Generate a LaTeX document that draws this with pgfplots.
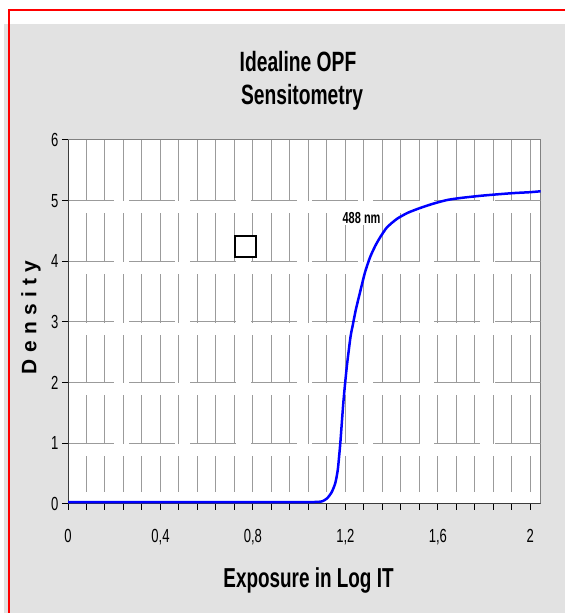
\documentclass[border=0pt]{standalone}
\usepackage{fontspec}
\setmainfont{Liberation Sans}
\newfontfamily\condfont{Liberation Sans}[FakeStretch=0.69]
\usepackage{pgfplots}
\pgfplotsset{compat=1.18}

\definecolor{bggray}{RGB}{226,226,226}
\definecolor{gridgray}{RGB}{155,155,155}
\definecolor{framegray}{RGB}{128,128,128}
\definecolor{axisdark}{RGB}{60,60,60}
\definecolor{redframe}{RGB}{255,0,0}
\definecolor{curveblue}{RGB}{0,0,255}

\begin{document}
\begin{tikzpicture}[x=1bp,y=1bp]
\useasboundingbox (0,0) rectangle (565,613);
\fill[white] (0,0) rectangle (565,613);
\fill[bggray] (4,0) rectangle (565,589);
\draw[redframe, line width=2bp] (9,-2) -- (9,603) -- (565,603);

\begin{axis}[
    at={(68bp,109bp)}, anchor=south west,
    scale only axis, width=472.7bp, height=364bp,
    xmin=0, xmax=2.045, ymin=0, ymax=6,
    xtick={0,0.4,0.8,1.2,1.6,2}, minor x tick num=4,
    ytick={0,1,2,3,4,5,6},
    axis background/.style={fill=white},
    xmajorgrids, xminorgrids,
    major grid style={gridgray, line width=1bp},
    minor grid style={gridgray, line width=1bp},
    tick align=outside, tick pos=left,
    major tick length=6bp, minor tick length=6bp,
    tick style={black, line width=1bp},
    axis line style={framegray, line width=1bp},
    ticklabel style={font=\condfont\fontsize{19}{21}\selectfont},
    xticklabel style={anchor=base, yshift=-33bp},
    /pgf/number format/.cd, use comma, assume math mode=true,
]
% white gaps that break the vertical grid just above each level
\fill[white] (axis cs:0.004,0.015) rectangle (axis cs:2.041,0.19);
\fill[white] (axis cs:0.004,0.79) rectangle (axis cs:2.041,0.99);
\fill[white] (axis cs:0.004,1.79) rectangle (axis cs:2.041,1.99);
\fill[white] (axis cs:0.004,2.79) rectangle (axis cs:2.041,2.99);
\fill[white] (axis cs:0.004,3.79) rectangle (axis cs:2.041,3.99);
\fill[white] (axis cs:0.004,4.79) rectangle (axis cs:2.041,4.99);
% broken horizontal grid lines
\draw[gridgray, line width=1bp, dash pattern=on 46bp off 15bp] (axis cs:0,1) -- (axis cs:2.045,1);
\draw[gridgray, line width=1bp, dash pattern=on 46bp off 15bp] (axis cs:0,2) -- (axis cs:2.045,2);
\draw[gridgray, line width=1bp, dash pattern=on 46bp off 15bp] (axis cs:0,3) -- (axis cs:2.045,3);
\draw[gridgray, line width=1bp, dash pattern=on 46bp off 15bp] (axis cs:0,4) -- (axis cs:2.045,4);
\draw[gridgray, line width=1bp, dash pattern=on 46bp off 15bp] (axis cs:0,5) -- (axis cs:2.045,5);
% darker left and bottom axis lines
\draw[axisdark, line width=1.6bp] (rel axis cs:0,1) -- (rel axis cs:0,0) -- (rel axis cs:1,0);

\node[fill=white, inner sep=1.5bp, font=\condfont\bfseries\fontsize{16}{18}\selectfont] at (axis cs:1.27,4.71) {488 nm};

\addplot[curveblue, line width=2.5bp, smooth, tension=0.4] coordinates {
    (0,0.03) (0.5,0.03) (1.0,0.03) (1.08,0.035) (1.10,0.045) (1.12,0.09)
    (1.14,0.19) (1.156,0.34) (1.167,0.56) (1.174,0.83) (1.179,1.05)
    (1.192,1.71) (1.206,2.26) (1.222,2.75) (1.232,2.95) (1.245,3.2)
    (1.264,3.5) (1.285,3.82) (1.307,4.07) (1.33,4.26) (1.351,4.40)
    (1.38,4.56) (1.423,4.70) (1.47,4.80) (1.524,4.88) (1.58,4.95)
    (1.639,5.01) (1.70,5.045) (1.784,5.08) (1.86,5.105) (1.928,5.125)
    (2.0,5.14) (2.045,5.155)
};
\addplot[only marks, mark=square*, mark size=10.6bp,
    mark options={fill=white, draw=black, line width=2bp}] coordinates {(0.769,4.24)};
\end{axis}

\node[anchor=base, font=\condfont\bfseries\fontsize{28}{30}\selectfont] at (298,541.5) {Idealine OPF};
\node[anchor=base, font=\condfont\bfseries\fontsize{28}{30}\selectfont] at (302,508) {Sensitometry};
\node[anchor=base, font=\condfont\bfseries\fontsize{27.5}{30}\selectfont] at (308.5,25) {Exposure in Log IT};
\node[rotate=90, font=\bfseries\fontsize{21}{23}\selectfont\addfontfeature{LetterSpace=30}] at (31,295.5) {Density};
\end{tikzpicture}
\end{document}
